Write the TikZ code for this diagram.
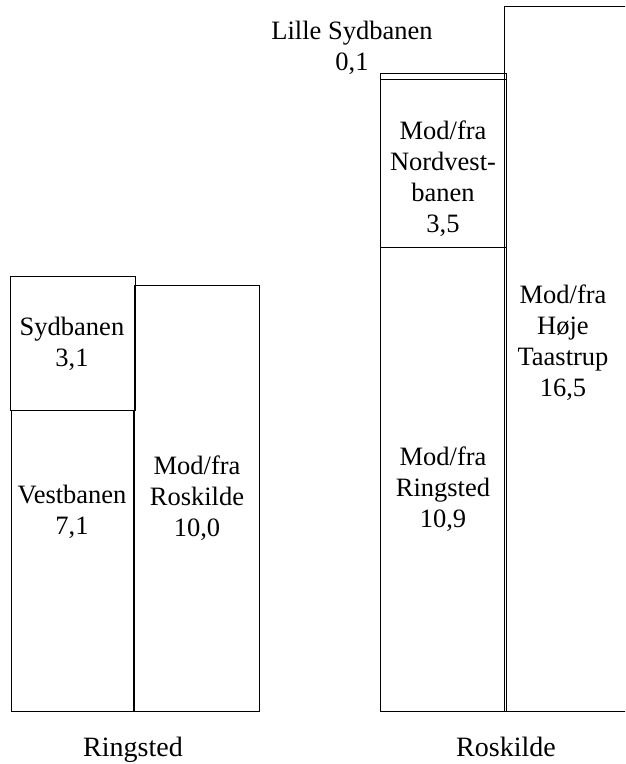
\documentclass[tikz,border=0pt]{standalone}
\usepackage{fontspec}
\setmainfont{Liberation Serif}
\begin{document}
\begin{tikzpicture}[x=1pt,y=-1pt,
  bar/.style={draw, line width=1.3pt, inner sep=0pt, anchor=north west},
  lbl/.style={align=center, inner sep=0pt, font=\fontsize{26.5}{31}\selectfont},
  citylbl/.style={inner sep=0pt, anchor=base, font=\fontsize{28}{31}\selectfont}]
\useasboundingbox (0,0) rectangle (625,764);
\begin{scope}
\clip (0,0) rectangle (625,764);
% Ringsted
\node[bar, minimum width=125pt, minimum height=134pt] (syd) at (10,276) {};
\node[bar, minimum width=122pt, minimum height=301pt] (vest) at (11,410) {};
\node[bar, minimum width=125pt, minimum height=426pt] (rosk) at (134,285) {};
% Roskilde
\node[bar, minimum width=126pt, minimum height=6pt] (lille) at (380,73) {};
\node[bar, minimum width=126pt, minimum height=168pt] (nord) at (380,79) {};
\node[bar, minimum width=126pt, minimum height=464pt] (ring) at (380,247) {};
\node[bar, minimum width=140pt, minimum height=705pt] (hoje) at (504,6) {};
\end{scope}
% labels
\node[lbl] (tsyd) at (72,344) {Sydbanen\\3,1};
\node[lbl] (tvest) at (72,512) {Vestbanen\\7,1};
\node[lbl] (trosk) at (197,498) {Mod/fra\\Roskilde\\10,0};
\node[lbl] (tlille) at (352,48) {Lille Sydbanen\\0,1};
\node[lbl] (tnord) at (443,179) {Mod/fra\\Nordvest-\\banen\\3,5};
\node[lbl] (tring) at (443,489) {Mod/fra\\Ringsted\\10,9};
\node[lbl] (thoje) at (563,343) {Mod/fra\\Høje\\Taastrup\\16,5};
\node[citylbl] (lring) at (133,756) {Ringsted};
\node[citylbl] (lrosk) at (506,756) {Roskilde};
\end{tikzpicture}
\end{document}
